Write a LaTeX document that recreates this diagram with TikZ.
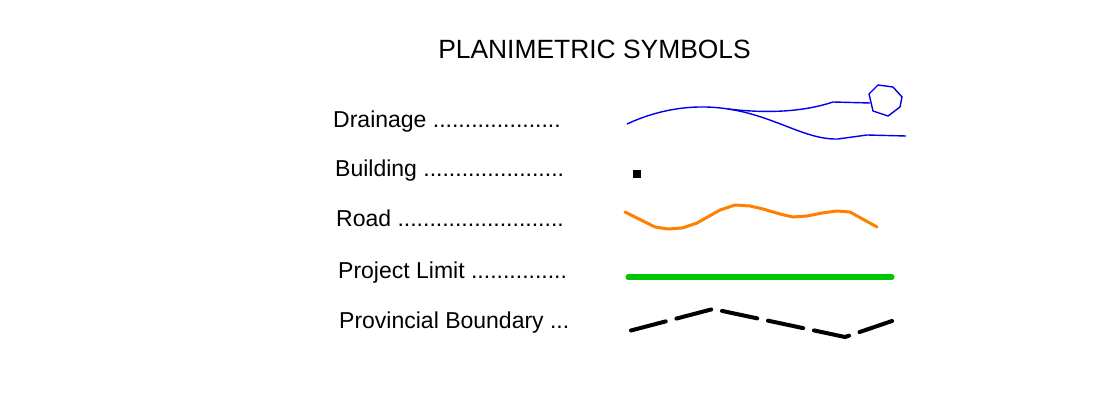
\documentclass[tikz,border=0pt]{standalone}
\usepackage{fontspec}
\setmainfont{Liberation Sans}
\definecolor{drainblue}{RGB}{0,0,235}
\definecolor{roadorange}{RGB}{255,128,0}
\definecolor{limitgreen}{RGB}{0,200,0}
\begin{document}
\begin{tikzpicture}[x=1pt,y=-1pt,
  legendlabel/.style={anchor=base west,inner sep=0pt,font=\fontsize{23}{27}\selectfont},
  drainline/.style={draw=drainblue,line width=1.4pt,line join=round},
  roadline/.style={draw=roadorange,line width=3pt,line join=round,line cap=round},
  limitline/.style={draw=limitgreen,line width=5pt,line cap=round},
  boundline/.style={draw=black,line width=4pt,line cap=round,line join=round,
    dash pattern=on 36pt off 11pt,dash phase=-2pt}]
\useasboundingbox (0,0) rectangle (1113,395);

% heading
\node[anchor=base,inner sep=0pt,font=\fontsize{26.4}{30}\selectfont] (title) at (594.5,59) {PLANIMETRIC SYMBOLS};

% legend entries
\node[legendlabel] (drainage) at (333,128) {Drainage ....................};
\node[legendlabel] (building) at (335,177) {Building ......................};
\node[legendlabel] (road) at (336,227) {Road ..........................};
\node[legendlabel] (limit) at (338,278) {Project Limit ...............};
\node[legendlabel] (boundary) at (339,328) {Provincial Boundary ...};

% drainage: stream forking into two channels, one feeding a pond
\coordinate (dstart) at (627,124);
\coordinate (dfork) at (728,109);
\draw[drainline] (dstart) .. controls (655,111) and (690,103) .. (dfork);
\draw[drainline] (dfork) .. controls (762,113) and (800,113) .. (833,102) -- (870,103);
\draw[drainline] (dfork) .. controls (775,116) and (805,140) .. (838,139) -- (867,135) -- (906,136);
\draw[drainline] (869,94) -- (878,85) -- (893,87) -- (902,97) -- (900,107) -- (888,116) -- (873,111) -- cycle;

% building
\fill[black] (633,170) rectangle (641,178);

% road
\draw[roadline] (625,212) -- (643,221) -- (655,227) -- (668,229) -- (682,228) -- (697,223)
  -- (720,210) -- (735,205) -- (750,206) -- (763,209) -- (780,214) -- (793,217)
  -- (807,216) -- (822,213) -- (837,211) -- (850,212) -- (877,227);

% project limit
\draw[limitline] (628,277) -- (892,277);

% provincial boundary
\draw[boundline] (629,331) -- (713,309) -- (845,337) -- (892,321);
\end{tikzpicture}
\end{document}
